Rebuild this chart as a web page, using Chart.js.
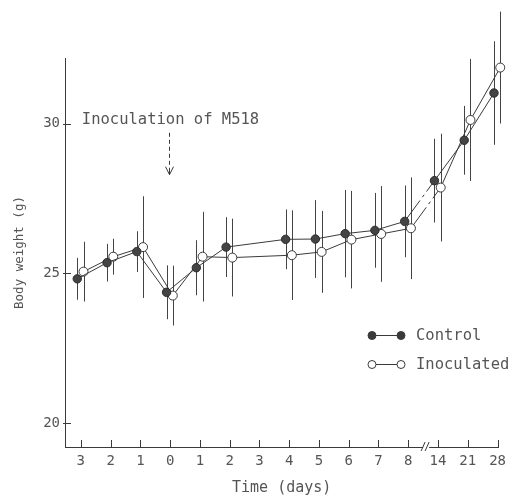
<!DOCTYPE html>
<html>
<head>
<meta charset="utf-8">
<script src="https://cdn.jsdelivr.net/npm/chart.js@4.4.0/dist/chart.umd.min.js"></script>
<style>
  html, body { margin: 0; padding: 0; background: #fff; }
  #wrap { width: 512px; height: 497px; }
</style>
</head>
<body>
<div id="wrap"><canvas id="bodyWeight" width="512" height="497"></canvas></div>
<script>
// axis ticks: actual day for each tick and the label printed under it
var tickDays = [-3, -2, -1, 0, 1, 2, 3, 4, 5, 6, 7, 8, 14, 21, 28];
var tickLabels = ['3', '2', '1', '0', '1', '2', '3', '4', '5', '6', '7', '8', '14', '21', '28'];
var yTicks = [20, 25, 30];

// measured days (no point on day 3)
var days = [-3, -2, -1, 0, 1, 2, 4, 5, 6, 7, 8, 14, 21, 28];
var control = [24.82, 25.36, 25.73, 24.37, 25.19, 25.88, 26.14, 26.15, 26.33, 26.44, 26.74, 28.1, 29.45, 31.03];
var controlErr = [0.7, 0.63, 0.68, 0.9, 0.92, 1.0, 1.0, 1.3, 1.46, 1.25, 1.2, 1.4, 1.15, 1.73];
var inoculated = [25.06, 25.56, 25.88, 24.26, 25.56, 25.53, 25.61, 25.72, 26.13, 26.32, 26.51, 27.87, 30.13, 31.88];
var inoculatedErr = [1.0, 0.6, 1.7, 1.0, 1.5, 1.3, 1.5, 1.37, 1.63, 1.6, 1.7, 1.8, 2.04, 1.87];

var ink = '#3a3a3a';
var textInk = '#555';
var mono = '"DejaVu Sans Mono", "Liberation Mono", monospace';

function toPoints(values, shift) {
    return values.map(function(v, i) {
        return { x: tickDays.indexOf(days[i]) + shift, y: v };
    });
}

// the 8 -> 14 segment crosses the axis break
function breakDash(ctx) {
    return ctx.p0DataIndex === days.indexOf(8) ? [26, 4, 3, 4, 80] : undefined;
}

var errorBars = {
    id: 'errorBars',
    beforeDatasetsDraw: function(chart) {
        var c = chart.ctx;
        var y = chart.scales.y;
        var errs = [controlErr, inoculatedErr];
        c.save();
        c.strokeStyle = '#444';
        c.lineWidth = 1;
        chart.data.datasets.forEach(function(ds, di) {
            var meta = chart.getDatasetMeta(di);
            meta.data.forEach(function(pt, i) {
                var v = ds.data[i].y;
                var px = Math.round(pt.x) + 0.5;
                c.beginPath();
                c.moveTo(px, y.getPixelForValue(v + errs[di][i]));
                c.lineTo(px, y.getPixelForValue(v - errs[di][i]));
                c.stroke();
            });
        });
        c.restore();
    }
};

var decorations = {
    id: 'decorations',
    afterDraw: function(chart) {
        var c = chart.ctx;
        var x = chart.scales.x;
        var y = chart.scales.y;
        var area = chart.chartArea;
        c.save();
        c.strokeStyle = ink;
        c.lineWidth = 1;

        // inward tick marks
        tickLabels.forEach(function(_, i) {
            var px = Math.round(x.getPixelForValue(i)) + 0.5;
            c.beginPath();
            c.moveTo(px, area.bottom);
            c.lineTo(px, area.bottom - 7);
            c.stroke();
        });
        yTicks.forEach(function(t) {
            var py = Math.round(y.getPixelForValue(t)) + 0.5;
            c.beginPath();
            c.moveTo(area.left - 2, py);
            c.lineTo(area.left + 6, py);
            c.stroke();
        });

        // axis break between 8 and 14
        var bx = x.getPixelForValue(11.6);
        var by = area.bottom;
        c.fillStyle = '#fff';
        c.fillRect(bx - 3, by - 2, 6, 4);
        c.beginPath();
        c.moveTo(bx - 5, by + 4); c.lineTo(bx - 1, by - 5);
        c.moveTo(bx - 1, by + 4); c.lineTo(bx + 3, by - 5);
        c.stroke();

        // inoculation note with dashed arrow
        var ax = Math.round(x.getPixelForValue(tickDays.indexOf(0))) - 0.5;
        c.fillStyle = textInk;
        c.font = '15.5px ' + mono;
        c.textBaseline = 'alphabetic';
        c.textAlign = 'left';
        c.fillText('Inoculation of M518', x.getPixelForValue(0) + 1, y.getPixelForValue(29.98));
        var a0 = y.getPixelForValue(29.7);
        var a1 = y.getPixelForValue(28.3);
        c.setLineDash([4, 3]);
        c.beginPath();
        c.moveTo(ax, a0);
        c.lineTo(ax, a1 - 2);
        c.stroke();
        c.setLineDash([]);
        c.beginPath();
        c.moveTo(ax - 4, a1 - 8);
        c.lineTo(ax, a1);
        c.lineTo(ax + 4, a1 - 8);
        c.moveTo(ax, a1 - 6);
        c.lineTo(ax, a1);
        c.stroke();

        // legend
        var rows = [
            { label: 'Control', fill: ink, y: 335 },
            { label: 'Inoculated', fill: '#fff', y: 364 }
        ];
        rows.forEach(function(r) {
            c.beginPath();
            c.moveTo(372, r.y + 0.5);
            c.lineTo(401, r.y + 0.5);
            c.stroke();
            [372, 401].forEach(function(mx) {
                c.beginPath();
                c.arc(mx, r.y + 0.5, 4, 0, Math.PI * 2);
                c.fillStyle = r.fill;
                c.fill();
                c.stroke();
            });
            c.fillStyle = textInk;
            c.textBaseline = 'middle';
            c.fillText(r.label, 416, r.y + 1);
        });
        c.restore();
    }
};

var ctx = document.getElementById('bodyWeight');
var chart = new Chart(ctx, {
    type: 'line',
    data: {
        datasets: [{
            label: 'Control',
            data: toPoints(control, -0.12),
            borderColor: ink,
            borderWidth: 1,
            pointRadius: 4.2,
            pointBackgroundColor: '#444',
            pointBorderColor: '#2a2a2a',
            pointBorderWidth: 1,
            tension: 0,
            clip: false,
            segment: { borderDash: breakDash }
        }, {
            label: 'Inoculated',
            data: toPoints(inoculated, 0.09),
            borderColor: ink,
            borderWidth: 1,
            pointRadius: 4.5,
            pointBackgroundColor: '#fff',
            pointBorderColor: ink,
            pointBorderWidth: 1,
            tension: 0,
            clip: false,
            segment: { borderDash: breakDash }
        }]
    },
    options: {
        responsive: false,
        animation: false,
        layout: { padding: { top: 58, right: 9, bottom: 0, left: 0 } },
        plugins: {
            legend: { display: false },
            tooltip: { enabled: false }
        },
        scales: {
            x: {
                type: 'linear',
                min: -0.532,
                max: 14.025,
                afterBuildTicks: function(scale) {
                    scale.ticks = tickLabels.map(function(_, i) { return { value: i }; });
                },
                afterFit: function(scale) { scale.height = 50; },
                grid: { display: false, drawTicks: false },
                border: { display: true, color: ink, width: 1 },
                ticks: {
                    autoSkip: false,
                    maxRotation: 0,
                    padding: 6,
                    color: textInk,
                    font: { family: mono, size: 14 },
                    callback: function(v) { return tickLabels[v]; }
                },
                title: {
                    display: true,
                    text: 'Time (days)',
                    color: textInk,
                    font: { family: mono, size: 15 },
                    padding: { top: 0, bottom: 0 }
                }
            },
            y: {
                min: 19.2,
                max: 32.2,
                afterBuildTicks: function(scale) {
                    scale.ticks = yTicks.map(function(t) { return { value: t }; });
                },
                afterFit: function(scale) { scale.width = 65; },
                grid: { display: false, drawTicks: false },
                border: { display: true, color: ink, width: 1 },
                ticks: {
                    padding: 5,
                    color: textInk,
                    font: { family: mono, size: 14 }
                },
                title: {
                    display: true,
                    text: 'Body weight (g)',
                    color: textInk,
                    font: { family: mono, size: 12.5 },
                    padding: { top: 12, bottom: 0 }
                }
            }
        }
    },
    plugins: [errorBars, decorations]
});
</script>
</body>
</html>
